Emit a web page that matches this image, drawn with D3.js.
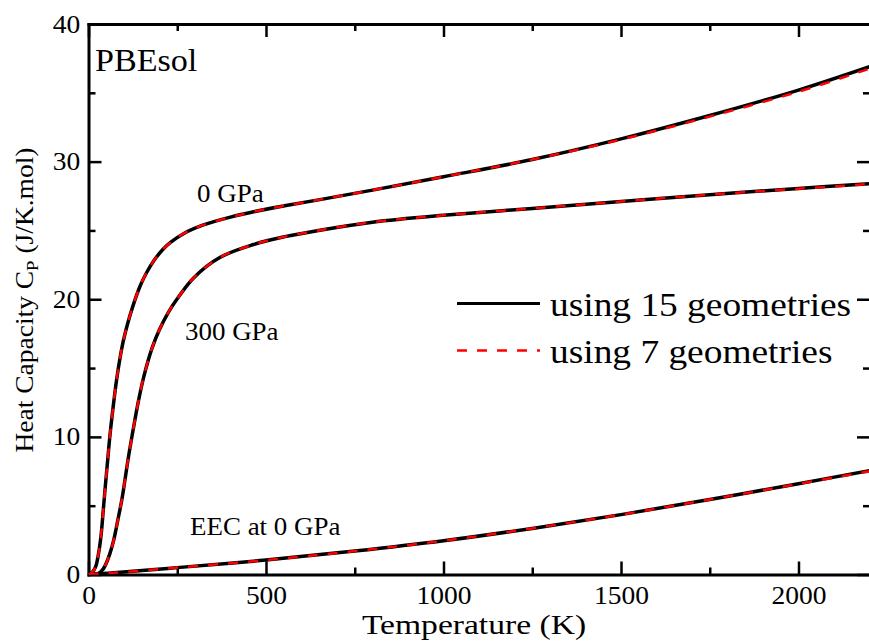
<!DOCTYPE html>
<html>
<head>
  <meta charset="utf-8">
  <script src="https://d3js.org/d3.v7.min.js"></script>
  <style>
    body { margin: 0; background: #fff; }
    text { font-family: "Liberation Serif", "Times New Roman", serif; fill: #000; }
  </style>
</head>
<body>
<script type="text/javascript">
  "use strict";

  // --- data ---
  // 0 GPa
  var temps0 = [0, 10, 20, 30, 36, 42, 48, 54, 60, 70, 80, 95, 110, 125, 146, 165, 184, 210, 231, 270, 324, 400, 465, 550, 652, 800, 1000, 1250, 1500, 1750, 2000, 2200];
  var cp0_15 = [0, 0.15, 0.55, 1.8, 3.0, 4.8, 6.6, 8.3, 10.0, 12.3, 14.3, 16.6, 18.2, 19.5, 21.0, 22.0, 22.8, 23.63, 24.13, 24.8, 25.4, 25.97, 26.36, 26.78, 27.24, 27.93, 28.9, 30.15, 31.65, 33.35, 35.2, 36.9];
  var cp0_7  = [0, 0.15, 0.55, 1.8, 3.0, 4.8, 6.6, 8.3, 10.0, 12.3, 14.3, 16.6, 18.2, 19.5, 21.0, 22.0, 22.8, 23.63, 24.13, 24.8, 25.4, 25.97, 26.36, 26.78, 27.24, 27.93, 28.9, 30.15, 31.6, 33.27, 35.08, 36.75];
  // 300 GPa
  var temps300 = [0, 20, 30, 40, 48, 60, 71, 83, 95, 112, 126, 141, 156, 179, 200, 225, 249, 296, 371, 465, 550, 652, 800, 1000, 1250, 1500, 1750, 2000, 2200];
  var cp300_15 = [0, 0.02, 0.1, 0.35, 0.7, 1.5, 2.5, 4.0, 5.6, 8.45, 10.55, 12.65, 14.4, 16.45, 17.8, 19.05, 20.0, 21.55, 23.05, 23.98, 24.53, 25.02, 25.6, 26.1, 26.6, 27.1, 27.6, 28.05, 28.4];
  var cp300_7  = [0, 0.02, 0.1, 0.35, 0.7, 1.5, 2.5, 4.0, 5.6, 8.45, 10.55, 12.65, 14.4, 16.45, 17.8, 19.05, 20.0, 21.55, 23.05, 23.98, 24.53, 25.02, 25.6, 26.1, 26.6, 27.1, 27.6, 28.03, 28.37];
  // EEC at 0 GPa
  var tempsEEC = [0, 71, 250, 500, 750, 1000, 1250, 1500, 1750, 2000, 2200];
  var cpEEC_15 = [0, 0.12, 0.5, 1.05, 1.7, 2.45, 3.35, 4.35, 5.45, 6.6, 7.55];
  var cpEEC_7  = [0, 0.12, 0.5, 1.05, 1.7, 2.45, 3.35, 4.35, 5.45, 6.58, 7.5];

  var xMajor = [0, 500, 1000, 1500, 2000];
  var xMinor = [250, 750, 1250, 1750];
  var yMajor = [0, 10, 20, 30, 40];
  var yMinor = [5, 15, 25, 35];
  var legendLabels = ["using 15 geometries", "using 7 geometries"];
  var curveLabels = ["0 GPa", "300 GPa", "EEC at 0 GPa"];

  var W = 869, H = 641;
  var pLeft = 88.5, pRight = 869.5, pTop = 24, pBottom = 574.5;
  var sx = 1.1; // text in the picture is a bit wide

  var x = d3.scaleLinear().domain([0, 2200]).range([pLeft, pRight]);
  var y = d3.scaleLinear().domain([0, 40]).range([pBottom, pTop]);

  var svg = d3.select("body").append("svg")
      .attr("width", W)
      .attr("height", H);

  svg.append("defs").append("clipPath").attr("id", "plot")
    .append("rect")
      .attr("x", pLeft).attr("y", pTop)
      .attr("width", pRight - pLeft).attr("height", pBottom - pTop);

  /*
    axes, all ticks pointing inward
  */
  function styleAxis(g, keepDomain) {
    g.selectAll(".tick line").attr("stroke", "#000").attr("stroke-width", 2.5);
    if (keepDomain) {
      g.select(".domain").attr("stroke", "#000").attr("stroke-width", 3).attr("stroke-linecap", "square");
    } else {
      g.select(".domain").remove();
    }
  }

  // bottom
  var gb = svg.append("g").attr("transform", "translate(0," + pBottom + ")")
    .call(d3.axisBottom(x).tickValues(xMajor).tickSize(-13).tickSizeOuter(0).tickPadding(12).tickFormat(d3.format("d")));
  styleAxis(gb, true);
  gb.selectAll("text").style("font-size", "25px").attr("fill", "#000")
    .attr("transform", "scale(" + sx + ",1)");
  var gb2 = svg.append("g").attr("transform", "translate(0," + pBottom + ")")
    .call(d3.axisBottom(x).tickValues(xMinor).tickSize(-7).tickSizeOuter(0).tickFormat(""));
  styleAxis(gb2, false);

  // top
  var gt = svg.append("g").attr("transform", "translate(0," + pTop + ")")
    .call(d3.axisTop(x).tickValues(xMajor).tickSize(-13).tickSizeOuter(0).tickFormat(""));
  styleAxis(gt, true);
  var gt2 = svg.append("g").attr("transform", "translate(0," + pTop + ")")
    .call(d3.axisTop(x).tickValues(xMinor).tickSize(-7).tickSizeOuter(0).tickFormat(""));
  styleAxis(gt2, false);

  // left
  var gl = svg.append("g").attr("transform", "translate(" + pLeft + ",0)")
    .call(d3.axisLeft(y).tickValues(yMajor).tickSize(-13).tickSizeOuter(0).tickPadding(7.5));
  styleAxis(gl, true);
  gl.selectAll("text").style("font-size", "25px").attr("fill", "#000")
    .attr("transform", "scale(" + sx + ",1)");
  var gl2 = svg.append("g").attr("transform", "translate(" + pLeft + ",0)")
    .call(d3.axisLeft(y).tickValues(yMinor).tickSize(-7).tickSizeOuter(0).tickFormat(""));
  styleAxis(gl2, false);

  // right (ticks only, frame line falls off the page)
  var gr = svg.append("g").attr("transform", "translate(" + pRight + ",0)")
    .call(d3.axisRight(y).tickValues(yMajor).tickSize(-12.5).tickSizeOuter(0).tickFormat(""));
  styleAxis(gr, false);
  var gr2 = svg.append("g").attr("transform", "translate(" + pRight + ",0)")
    .call(d3.axisRight(y).tickValues(yMinor).tickSize(-6.5).tickSizeOuter(0).tickFormat(""));
  styleAxis(gr2, false);

  /*
    curves: black solid (15 geometries) under red dashed (7 geometries)
  */
  var line = d3.line()
    .x(function (d) { return x(d[0]); })
    .y(function (d) { return y(d[1]); })
    .curve(d3.curveCatmullRom.alpha(0.5));

  var series = [
    { t: temps0, solid: cp0_15, dashed: cp0_7 },
    { t: temps300, solid: cp300_15, dashed: cp300_7 },
    { t: tempsEEC, solid: cpEEC_15, dashed: cpEEC_7 }
  ];

  var plot = svg.append("g").attr("clip-path", "url(#plot)");
  series.forEach(function (s) {
    plot.append("path")
      .datum(d3.zip(s.t, s.solid))
      .attr("d", line)
      .attr("fill", "none")
      .attr("stroke", "#000")
      .attr("stroke-width", 3.5);
  });
  series.forEach(function (s) {
    plot.append("path")
      .datum(d3.zip(s.t, s.dashed))
      .attr("d", line)
      .attr("fill", "none")
      .attr("stroke", "#ff0000")
      .attr("stroke-width", 2.5)
      .attr("stroke-dasharray", "10,10");
  });

  /*
    text
  */
  function label(txt, px, py, size, anchor, stretch) {
    return svg.append("text")
      .attr("transform", "translate(" + px + "," + py + ") scale(" + (stretch || sx) + ",1)")
      .attr("text-anchor", anchor || "start")
      .style("font-size", size + "px")
      .text(txt);
  }

  label("PBEsol", 95, 70.5, 31);
  label(curveLabels[0], 197, 201.5, 24.5);
  label(curveLabels[1], 185, 340, 24.5);
  label(curveLabels[2], 190, 534.5, 24.5);

  label("Temperature (K)", 474, 634, 28, "middle", 1.2);

  var yt = svg.append("text")
    .attr("transform", "translate(33,300) rotate(-90) scale(" + sx + ",1)")
    .attr("text-anchor", "middle")
    .style("font-size", "25px");
  yt.append("tspan").text("Heat Capacity C");
  yt.append("tspan").attr("dy", 5).style("font-size", "17px").text("P");
  yt.append("tspan").attr("dy", -5).text(" (J/K.mol)");

  // legend
  var legY = [303.5, 350.5];
  var lg = svg.append("g");
  lg.append("line")
    .attr("x1", 457).attr("x2", 540).attr("y1", legY[0]).attr("y2", legY[0])
    .attr("stroke", "#000").attr("stroke-width", 3);
  lg.append("line")
    .attr("x1", 457).attr("x2", 540).attr("y1", legY[1]).attr("y2", legY[1])
    .attr("stroke", "#ff0000").attr("stroke-width", 2.5).attr("stroke-dasharray", "10,10");
  legendLabels.forEach(function (d, i) {
    label(d, 550, legY[i] + 12, 34);
  });
</script>
</body>
</html>
